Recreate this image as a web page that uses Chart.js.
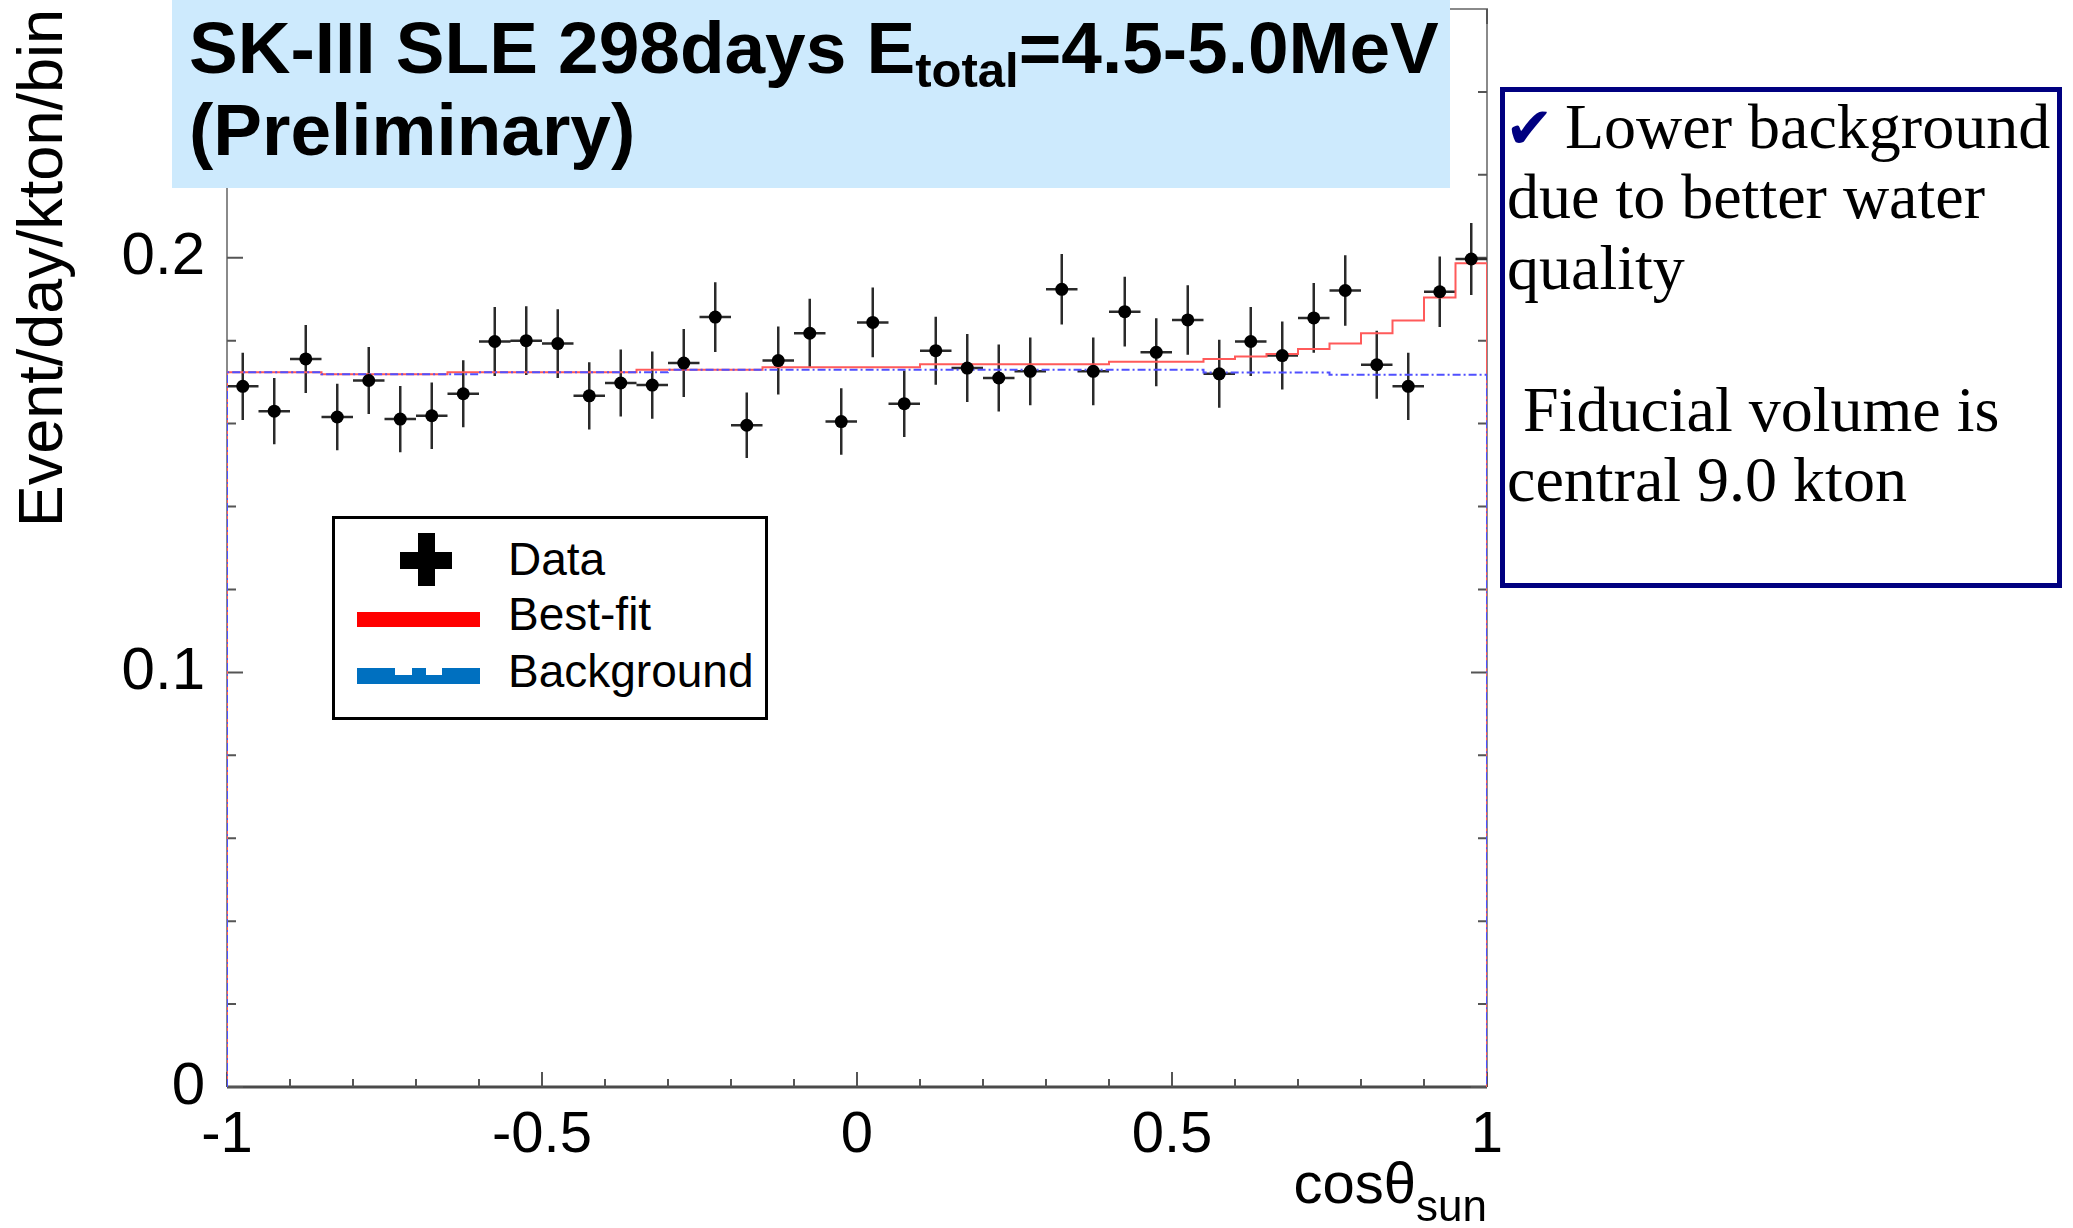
<!DOCTYPE html>
<html><head><meta charset="utf-8">
<script src="https://cdn.jsdelivr.net/npm/chart.js@4.4.1/dist/chart.umd.min.js"></script>
<style>
html,body{margin:0;padding:0;background:#fff;}
#wrap{position:relative;width:2073px;height:1228px;overflow:hidden;background:#fff;}
#c{position:absolute;left:0;top:0;}
.abs{position:absolute;white-space:nowrap;line-height:1;}
#titlebox{position:absolute;left:172px;top:0;width:1278px;height:188px;background:#cdeafd;}
.t{font-family:'Liberation Sans',Arial,sans-serif;font-weight:bold;font-size:73px;color:#000;}
.t .sub{font-size:49px;vertical-align:-14px;line-height:1;}
#note{position:absolute;left:1500px;top:87px;width:562px;height:501px;border:5px solid #000080;box-sizing:border-box;}
.n{font-family:'Liberation Serif','Times New Roman',serif;font-size:64px;color:#000;}
.chk{font-family:'DejaVu Sans',sans-serif;font-size:58px;color:#000080;}
#legend{position:absolute;left:332px;top:516px;width:436px;height:204px;border:3px solid #000;box-sizing:border-box;background:#fff;}
.l{font-family:'Liberation Sans',Arial,sans-serif;font-size:46px;color:#000;}
.blk{position:absolute;}
.xt{font-family:'Liberation Sans',Arial,sans-serif;font-size:58px;color:#000;}
.xt .sub{font-size:44px;vertical-align:-18px;line-height:1;}
</style></head>
<body>
<div id="wrap">
<canvas id="c" width="2073" height="1228"></canvas>

<div id="titlebox"></div>
<div class="abs t" style="left:189px;top:11px;">SK-III SLE 298days E<span class="sub">total</span>=4.5-5.0MeV</div>
<div class="abs t" style="left:189px;top:93px;">(Preliminary)</div>

<div id="legend"></div>
<div class="blk" style="left:418px;top:533px;width:17px;height:53px;background:#000;"></div>
<div class="blk" style="left:400px;top:552px;width:52px;height:17px;background:#000;"></div>
<div class="blk" style="left:357px;top:612px;width:123px;height:15px;background:#ff0000;"></div>
<div class="blk" style="left:357px;top:668px;width:123px;height:16px;background:#0070c0;"></div>
<div class="blk" style="left:395px;top:668px;width:17px;height:7px;background:#fff;"></div>
<div class="blk" style="left:426px;top:668px;width:16px;height:7px;background:#fff;"></div>
<div class="abs l" style="left:508px;top:536px;">Data</div>
<div class="abs l" style="left:508px;top:591px;">Best-fit</div>
<div class="abs l" style="left:508px;top:648px;">Background</div>

<div class="abs xt" style="right:586px;top:1154px;">cosθ<span class="sub">sun</span></div>

<div id="note"></div>
<div class="abs chk" style="left:1505px;top:99px;">✔</div>
<div class="abs n" style="left:1565px;top:95px;">Lower background</div>
<div class="abs n" style="left:1507px;top:165px;">due to better water</div>
<div class="abs n" style="left:1507px;top:236px;">quality</div>
<div class="abs n" style="left:1523px;top:378px;">Fiducial volume is</div>
<div class="abs n" style="left:1507px;top:448px;">central 9.0 kton</div>
</div>

<script>
// ---- data ----
const binCenters = [-0.975,-0.925,-0.875,-0.825,-0.775,-0.725,-0.675,-0.625,-0.575,-0.525,
                    -0.475,-0.425,-0.375,-0.325,-0.275,-0.225,-0.175,-0.125,-0.075,-0.025,
                     0.025, 0.075, 0.125, 0.175, 0.225, 0.275, 0.325, 0.375, 0.425, 0.475,
                     0.525, 0.575, 0.625, 0.675, 0.725, 0.775, 0.825, 0.875, 0.925, 0.975];
const binHalfWidth = 0.025;
const dataValues = [0.1690,0.1630,0.1756,0.1616,0.1704,0.1611,0.1619,0.1672,0.1798,0.1800,
                    0.1793,0.1667,0.1698,0.1693,0.1746,0.1857,0.1596,0.1752,0.1818,0.1605,
                    0.1844,0.1648,0.1776,0.1734,0.1710,0.1726,0.1924,0.1726,0.1870,0.1772,
                    0.1850,0.1720,0.1798,0.1764,0.1855,0.1921,0.1742,0.1690,0.1918,0.1997];
const dataErrors = [0.0081,0.0080,0.0082,0.0080,0.0081,0.0080,0.0080,0.0081,0.0083,0.0083,
                    0.0083,0.0081,0.0081,0.0081,0.0082,0.0084,0.0079,0.0082,0.0083,0.0080,
                    0.0084,0.0080,0.0082,0.0082,0.0081,0.0082,0.0085,0.0082,0.0084,0.0082,
                    0.0084,0.0082,0.0083,0.0082,0.0084,0.0085,0.0082,0.0081,0.0085,0.0087];
const bestFitValues = [0.1724,0.1724,0.1724,0.1719,0.1719,0.1719,0.1719,0.1724,0.1724,0.1724,
                       0.1724,0.1724,0.1724,0.1730,0.1730,0.1730,0.1730,0.1736,0.1736,0.1736,
                       0.1736,0.1736,0.1743,0.1743,0.1743,0.1743,0.1743,0.1743,0.1749,0.1749,
                       0.1749,0.1756,0.1762,0.1768,0.1780,0.1793,0.1818,0.1849,0.1904,0.1987];
const backgroundValues = [0.1724,0.1724,0.1724,0.1719,0.1719,0.1719,0.1719,0.1719,0.1724,0.1724,
                          0.1724,0.1724,0.1724,0.1724,0.1730,0.1730,0.1730,0.1730,0.1730,0.1730,
                          0.1730,0.1730,0.1730,0.1730,0.1730,0.1730,0.1730,0.1730,0.1730,0.1730,
                          0.1730,0.1723,0.1723,0.1723,0.1723,0.1718,0.1718,0.1718,0.1718,0.1718];
const xMin = -1, xMax = 1, yMin = 0, yMax = 0.26;
const xTickValues = [-1, -0.5, 0, 0.5, 1];
const xTickLabels = ['-1', '-0.5', '0', '0.5', '1'];
const xMinorTicks = [-0.9,-0.8,-0.7,-0.6,-0.4,-0.3,-0.2,-0.1,0.1,0.2,0.3,0.4,0.6,0.7,0.8,0.9];
const yTickValues = [0, 0.1, 0.2];
const yTickLabels = ['0', '0.1', '0.2'];
const yMinorTicks = [0.02,0.04,0.06,0.08,0.12,0.14,0.16,0.18,0.22,0.24];
const yTitle = 'Event/day/kton/bin';

// build histogram outlines (stepped, value held from each bin's low edge)
function histOutline(vals) {
  const pts = [{x: binCenters[0] - binHalfWidth, y: 0}];
  vals.forEach((v, i) => pts.push({x: binCenters[i] - binHalfWidth, y: v}));
  const last = binCenters.length - 1;
  pts.push({x: binCenters[last] + binHalfWidth, y: vals[last]});
  pts.push({x: binCenters[last] + binHalfWidth, y: 0});
  return pts;
}
const dataPoints = dataValues.map((v, i) => ({x: binCenters[i], y: v}));

const FONT = "'Liberation Sans', Arial, sans-serif";

const framePlugin = {
  id: 'rootFrame',
  beforeDatasetsDraw(chart) {
    const {ctx, chartArea: a, scales: {x, y}} = chart;
    ctx.save();
    // frame
    ctx.strokeStyle = '#8a8a8a';
    ctx.lineWidth = 2;
    ctx.beginPath();
    ctx.moveTo(a.left, a.bottom); ctx.lineTo(a.left, a.top);
    ctx.lineTo(a.right, a.top); ctx.lineTo(a.right, a.bottom);
    ctx.stroke();
    ctx.strokeStyle = '#4a4a4a';
    ctx.lineWidth = 3;
    ctx.beginPath();
    ctx.moveTo(a.left, a.bottom); ctx.lineTo(a.right, a.bottom);
    ctx.stroke();
    // ticks
    ctx.strokeStyle = '#555';
    ctx.lineWidth = 2;
    ctx.beginPath();
    const xt = (v, len) => {
      const px = x.getPixelForValue(v);
      ctx.moveTo(px, a.bottom); ctx.lineTo(px, a.bottom - len);
      ctx.moveTo(px, a.top); ctx.lineTo(px, a.top + len);
    };
    const yt = (v, len) => {
      const py = y.getPixelForValue(v);
      ctx.moveTo(a.left, py); ctx.lineTo(a.left + len, py);
      ctx.moveTo(a.right, py); ctx.lineTo(a.right - len, py);
    };
    xTickValues.forEach(v => xt(v, 15));
    xMinorTicks.forEach(v => xt(v, 8));
    yTickValues.forEach(v => yt(v, 16));
    yMinorTicks.forEach(v => yt(v, 9));
    ctx.stroke();
    // error bars
    ctx.strokeStyle = '#2a2a2a';
    ctx.lineWidth = 2.5;
    ctx.beginPath();
    dataValues.forEach((v, i) => {
      const cx = x.getPixelForValue(binCenters[i]);
      const cy = y.getPixelForValue(v);
      ctx.moveTo(cx, y.getPixelForValue(v - dataErrors[i]));
      ctx.lineTo(cx, y.getPixelForValue(v + dataErrors[i]));
      ctx.moveTo(x.getPixelForValue(binCenters[i] - binHalfWidth), cy);
      ctx.lineTo(x.getPixelForValue(binCenters[i] + binHalfWidth), cy);
    });
    ctx.stroke();
    ctx.restore();
  }
};

new Chart(document.getElementById('c'), {
  type: 'scatter',
  data: {
    datasets: [
      {label: 'Data', data: dataPoints, showLine: false, pointRadius: 6.5,
       pointBackgroundColor: '#000', pointBorderWidth: 0, order: 0},
      {label: 'Best-fit', data: histOutline(bestFitValues), showLine: true, stepped: true,
       borderColor: 'rgb(255,90,90)', borderWidth: 2, pointRadius: 0, order: 2},
      {label: 'Background', data: histOutline(backgroundValues), showLine: true, stepped: true,
       borderColor: 'rgb(80,80,255)', borderWidth: 2, borderDash: [8, 3, 2, 3], pointRadius: 0, order: 1}
    ]
  },
  options: {
    responsive: false,
    animation: false,
    devicePixelRatio: 1,
    layout: {padding: {left: 0, right: 586, top: 9, bottom: 0}},
    plugins: {legend: {display: false}, tooltip: {enabled: false}},
    scales: {
      x: {
        type: 'linear', min: xMin, max: xMax,
        afterBuildTicks: s => { s.ticks = xTickValues.map(v => ({value: v})); },
        ticks: {callback: (v, i) => xTickLabels[i], font: {family: FONT, size: 58}, color: '#000',
                padding: 14, maxRotation: 0, autoSkip: false},
        grid: {display: false, drawTicks: false},
        border: {display: false},
        afterFit: s => { s.height = 141; s.paddingLeft = 0; s.paddingRight = 0; }
      },
      y: {
        type: 'linear', min: yMin, max: yMax,
        afterBuildTicks: s => { s.ticks = yTickValues.map(v => ({value: v})); },
        ticks: {callback: (v, i) => yTickLabels[i], font: {family: FONT, size: 60}, color: '#000',
                padding: 22, autoSkip: false},
        grid: {display: false, drawTicks: false},
        border: {display: false},
        title: {display: true, text: yTitle, align: 'end', color: '#000',
                font: {family: FONT, size: 63}, padding: {top: 7, bottom: 0}},
        afterFit: s => { s.width = 227; s.paddingTop = 0; s.paddingBottom = 0; }
      }
    }
  },
  plugins: [framePlugin]
});
</script>
</body></html>
